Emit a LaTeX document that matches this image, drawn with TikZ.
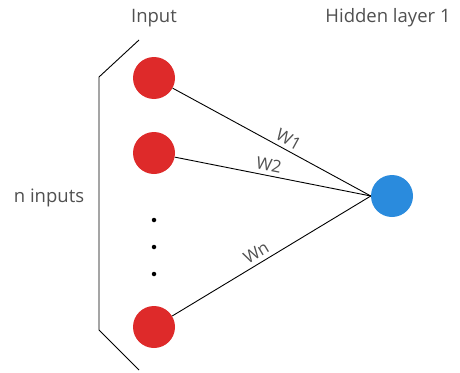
\documentclass[tikz,border=0pt]{standalone}
\usepackage{fontspec}
\setmainfont{Open Sans}
\definecolor{inred}{HTML}{DE2A2A}
\definecolor{hidblue}{HTML}{2A8BDD}
\definecolor{txt}{HTML}{505050}
\begin{document}
\begin{tikzpicture}[x=1pt,y=-1pt,
  innode/.style={circle,fill=inred,minimum size=42pt,inner sep=0pt},
  hidnode/.style={circle,fill=hidblue,minimum size=42pt,inner sep=0pt},
  lbl/.style={text=txt,font=\fontsize{18.5}{21}\selectfont},
  wlbl/.style={text=txt,font=\fontsize{17}{19}\selectfont,sloped,above,inner sep=4pt},
  dotnode/.style={circle,fill=black,minimum size=4.5pt,inner sep=0pt},
  conn/.style={draw=black,line width=0.9pt}]
\useasboundingbox (0,0) rectangle (460,372);
\node[innode] (i1) at (154,78) {};
\node[innode] (i2) at (154,153) {};
\node[innode] (in) at (154,327) {};
\node[hidnode] (h) at (392,196) {};
\node[dotnode] (d1) at (154,220) {};
\node[dotnode] (d2) at (154,247) {};
\node[dotnode] (d3) at (154,274) {};
\node[lbl] (tin) at (154,18) {Input};
\node[lbl] (thid) at (388,18) {Hidden layer 1};
\node[lbl] (tn) at (49,198) {n inputs};
\coordinate (b1) at (139,40);
\coordinate (b2) at (99,77);
\coordinate (b3) at (99,330);
\coordinate (b4) at (139,370);
\draw[conn] (b1) -- (b2) -- (b3) -- (b4);
\draw[conn] (i1) -- node[wlbl,pos=0.56] {W1} (h.west);
\draw[conn] (i2) -- node[wlbl,pos=0.47] {W2} (h.west);
\draw[conn] (in) -- node[wlbl,pos=0.45] {Wn} (h.west);
\end{tikzpicture}
\end{document}
